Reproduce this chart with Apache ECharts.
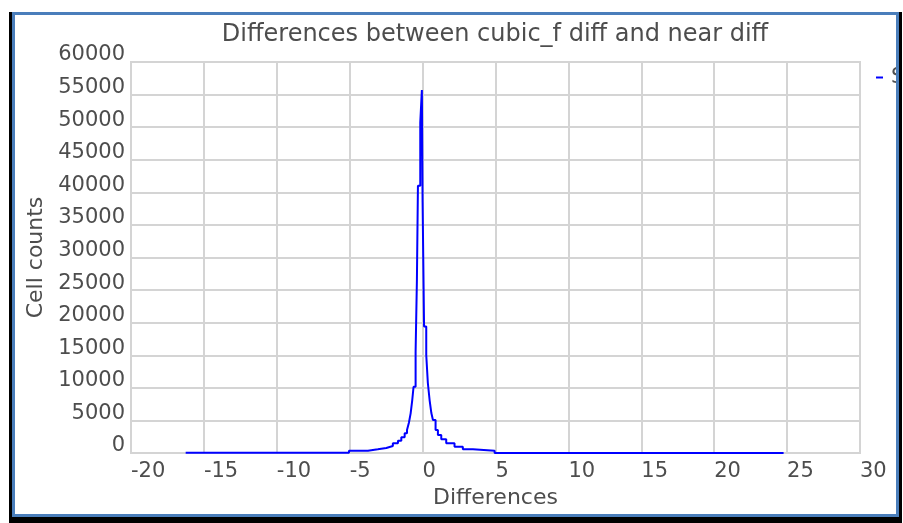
<!DOCTYPE html>
<html>
<head>
<meta charset="utf-8">
<script src="https://cdn.jsdelivr.net/npm/echarts@6/dist/echarts.min.js"></script>
<style>
  html, body { margin: 0; padding: 0; background: #ffffff; width: 903px; height: 523px; overflow: hidden; }
  #frame {
    position: absolute; left: 12px; top: 12px; width: 887px; height: 505px;
    box-sizing: border-box; border: 3px solid #4a7ebb;
    box-shadow: 0 3px 0 3px #000000; background: #ffffff; overflow: hidden;
  }
  #chart { position: absolute; left: 0; top: 0; width: 881px; height: 499px; }
</style>
</head>
<body>
<div id="frame"><div id="chart"></div></div>
<script>
// Histogram of the differences: each count holds from its bin edge to the next edge.
const binEdges = [
  -16.25, -5.05, -3.75, -3.07, -2.49, -2.04, -1.69, -1.46, -1.23, -1.07,
  -0.94, -0.82, -0.71, -0.62, -0.48, -0.39, -0.32, -0.16, -0.05, 0.0,
  0.1, 0.25, 0.36, 0.48, 0.6, 0.71, 0.89, 1.05, 1.28, 1.62,
  2.19, 2.76, 3.45, 4.94
];
const binCounts = [
  20, 350, 570, 770, 1070, 1490, 1890, 2400, 3020, 3530,
  4650, 6090, 8130, 10170, 15540, 26600, 41000, 50700, 55700, 38500,
  19400, 15030, 10740, 8130, 6130, 5060, 3530, 2760, 2100, 1490,
  970, 570, 350, 15
];
const lastEdge = 24.76;

const xTicks = { min: -20, max: 30, step: 5 };
const yTicks = { min: 0, max: 60000, step: 5000 };

const seriesName = 'Series 1';
const titleText = 'Differences between cubic_f diff and near diff';
const xName = 'Differences';
const yName = 'Cell counts';

const stepData = binEdges.map((e, i) => [e, binCounts[i]]);
stepData.push([lastEdge, binCounts[binCounts.length - 1]]);

const FONT = 'DejaVu Sans';
const TEXT = '#4d4d4d';
const GRID = '#d4d4d4';

const chart = echarts.init(document.getElementById('chart'), null, { renderer: 'canvas' });
chart.setOption({
  animation: false,
  backgroundColor: '#ffffff',
  title: {
    text: titleText,
    left: 480, top: 8, padding: 0, textAlign: 'center',
    textStyle: { fontFamily: FONT, fontSize: 24, fontWeight: 'normal', color: TEXT }
  },
  legend: {
    orient: 'vertical', left: 861, top: 52, padding: 0,
    icon: 'rect', itemWidth: 7, itemHeight: 2, itemGap: 8,
    textStyle: {
      fontFamily: FONT, fontSize: 21, color: TEXT, padding: [0, 0, 0, 3],
      width: 120, overflow: 'none'
    },
    data: [seriesName]
  },
  grid: {
    left: 116, right: 36, top: 47, bottom: 61,
    show: true, borderColor: GRID, borderWidth: 2, containLabel: false
  },
  xAxis: {
    type: 'value', min: xTicks.min, max: xTicks.max, interval: xTicks.step,
    name: xName, nameLocation: 'middle', nameGap: 28,
    nameTextStyle: { fontFamily: FONT, fontSize: 22, color: TEXT },
    axisLine: { show: true, lineStyle: { color: GRID, width: 2 } },
    axisTick: { show: false },
    splitLine: { show: true, lineStyle: { color: GRID, width: 2 } },
    axisLabel: { fontFamily: FONT, fontSize: 21, color: TEXT, align: 'left', margin: 8 }
  },
  yAxis: {
    type: 'value', min: yTicks.min, max: yTicks.max, interval: yTicks.step,
    name: yName, nameLocation: 'middle', nameGap: 80,
    nameTextStyle: { fontFamily: FONT, fontSize: 22, color: TEXT },
    axisLine: { show: true, lineStyle: { color: GRID, width: 2 } },
    axisTick: { show: false },
    splitLine: { show: true, lineStyle: { color: GRID, width: 2 } },
    axisLabel: {
      fontFamily: FONT, fontSize: 21, color: TEXT, margin: 6,
      verticalAlign: 'bottom', lineHeight: 14,
      formatter: (v) => String(v)
    }
  },
  series: [{
    name: seriesName,
    type: 'line',
    step: 'end',
    data: stepData,
    symbol: 'none',
    color: '#0000ff',
    lineStyle: { color: '#0000ff', width: 2 }
  }]
});
</script>
</body>
</html>
